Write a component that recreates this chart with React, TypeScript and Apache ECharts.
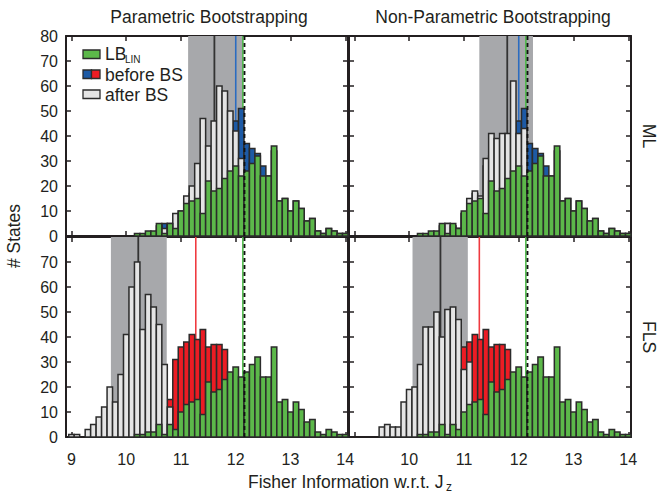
import React, { useEffect, useRef } from "react";
import * as echarts from "echarts";

// ---------- data ----------
const BIN_CENTERS = [
  9.0, 9.1, 9.2, 9.3, 9.4, 9.5, 9.6, 9.7, 9.8, 9.9,
  10.0, 10.1, 10.2, 10.3, 10.4, 10.5, 10.6, 10.7, 10.8, 10.9,
  11.0, 11.1, 11.2, 11.3, 11.4, 11.5, 11.6, 11.7, 11.8, 11.9,
  12.0, 12.1, 12.2, 12.3, 12.4, 12.5, 12.6, 12.7, 12.8, 12.9,
  13.0, 13.1, 13.2, 13.3, 13.4, 13.5, 13.6, 13.7, 13.8, 13.9, 14.0,
];
const BIN_WIDTH = 0.1;

const LB_LIN = [
  0, 0, 0, 0, 0, 0, 0, 0, 0, 0,
  0, 0, 1, 1, 2, 2, 5, 1, 5, 3,
  10, 13, 14, 15, 9, 22, 18, 19, 23, 26,
  28, 24, 26, 29, 32, 24, 24, 36, 14, 15,
  10, 14, 11, 6, 7, 2, 1, 3, 2, 1, 1,
];
const BEFORE_ML = [
  0, 0, 0, 0, 0, 0, 0, 0, 0, 0,
  0, 0, 0, 0, 0, 0, 2, 5, 4, 3,
  9, 14, 17, 15, 28, 32, 34, 38, 38, 40,
  46, 51, 37, 35, 33, 28, 24, 34, 14, 15,
  10, 14, 11, 6, 7, 2, 1, 3, 2, 1, 1,
];
const AFTER_ML_PARAM = [
  0, 0, 0, 0, 0, 0, 0, 0, 0, 0,
  0, 0, 0, 0, 0, 1, 4, 3, 5, 9,
  10, 16, 20, 29, 47, 36, 46, 60, 58, 50,
  42, 31, 10, 3, 0, 0, 0, 0, 0, 0,
  0, 0, 0, 0, 0, 0, 0, 0, 0, 0, 0,
];
const AFTER_ML_NONPARAM = [
  0, 0, 0, 0, 0, 0, 0, 0, 0, 0,
  0, 0, 0, 0, 0, 0, 4, 5, 4, 3,
  9, 15, 18, 16, 31, 41, 39, 41, 41, 62,
  41, 43, 12, 5, 0, 0, 0, 0, 0, 0,
  0, 0, 0, 0, 0, 0, 0, 0, 0, 0, 0,
];
const BEFORE_FLS = [
  0, 0, 0, 0, 0, 0, 0, 0, 0, 0,
  0, 0, 0, 0, 0, 2, 5, 9, 15, 31,
  36, 38, 41, 39, 43, 36, 37, 37, 35, 20,
  15, 10, 8, 5, 3, 2, 1, 0, 0, 0,
  0, 0, 0, 0, 0, 0, 0, 0, 0, 0, 0,
];
const AFTER_FLS_PARAM = [
  1, 1, 0, 3, 5, 8, 12, 20, 14, 25,
  41, 60, 70, 43, 57, 52, 45, 29, 12, 2,
  0, 0, 0, 0, 0, 0, 0, 0, 0, 0,
  0, 0, 0, 0, 0, 0, 0, 0, 0, 0,
  0, 0, 0, 0, 0, 0, 0, 0, 0, 0, 0,
];
const AFTER_FLS_NONPARAM = [
  0, 0, 0, 0, 0, 4, 5, 4, 4, 14,
  19, 20, 29, 44, 44, 50, 40, 51, 52, 47,
  27, 30, 0, 0, 0, 0, 0, 0, 0, 0,
  0, 0, 0, 0, 0, 0, 0, 0, 0, 0,
  0, 0, 0, 0, 0, 0, 0, 0, 0, 0, 0,
];

// per panel: TL, TR, BL, BR
const AFTER_BAND = [
  [11.13, 12.13],
  [11.28, 12.26],
  [9.72, 10.74],
  [10.06, 11.07],
];
const AFTER_MEAN = [11.61, 11.79, 10.22, 10.57];
const BEFORE_MEAN = [12.0, 12.0, 11.27, 11.28];
const LB_LIN_MEAN = 12.13;
const TRUE_VALUE = 12.16;

const X_TICKS = [9, 10, 11, 12, 13, 14];
const X_MIN = 8.9;
const X_MAX = 14.05;
const Y_MIN = 0;
const Y_MAX = 80;
const Y_STEP = 10;

const COL_TITLES = ["Parametric Bootstrapping", "Non-Parametric Bootstrapping"];
const ROW_LABELS = ["ML", "FLS"];
const LEGEND_LABELS = ["LB", "before BS", "after BS"];

// ---------- styles ----------
const FONT = '"Liberation Sans", Arial, Helvetica, sans-serif';
const INK = "#231f20";
const EDGE = "#2b2b2b";
const GREEN = "#5cb84a";
const BLUE = "#1d5aa5";
const RED = "#ec1c24";
const LIGHT = "#e4e4e4";
const BAND = "#a7a8ab";
const MEAN_LINE = "#333333";
const BLUE_LINE = "#2b6cc0";
const RED_LINE = "#ef3a3f";
const GREEN_LINE = "#4cb848";

const GRIDS = [
  { left: 66, top: 36, width: 282, height: 200 },
  { left: 349, top: 36, width: 282, height: 200 },
  { left: 66, top: 237, width: 282, height: 200 },
  { left: 349, top: 237, width: 282, height: 200 },
];

function barSeries(gi: number, values: number[], fill: string, z: number) {
  return {
    type: "custom",
    xAxisIndex: gi * 2,
    yAxisIndex: gi * 2,
    z,
    silent: true,
    data: BIN_CENTERS.map((c, i) => [c, values[i]]),
    renderItem: (params: any, api: any) => {
      const x = api.value(0);
      const y = api.value(1);
      if (!y) return null;
      const a = api.coord([x - BIN_WIDTH / 2, y]);
      const b = api.coord([x + BIN_WIDTH / 2, 0]);
      return {
        type: "rect",
        shape: { x: a[0], y: a[1], width: b[0] - a[0], height: b[1] - a[1] },
        style: { fill, stroke: EDGE, lineWidth: 1.5 },
      };
    },
  };
}

function bandSeries(gi: number, range: number[]) {
  return {
    type: "custom",
    xAxisIndex: gi * 2,
    yAxisIndex: gi * 2,
    z: 1,
    silent: true,
    data: [[range[0], range[1]]],
    renderItem: (params: any, api: any) => {
      const cs = params.coordSys;
      const a = api.coord([api.value(0), 0]);
      const b = api.coord([api.value(1), 0]);
      return {
        type: "rect",
        shape: { x: a[0], y: cs.y, width: b[0] - a[0], height: cs.height },
        style: { fill: BAND },
      };
    },
  };
}

function vlineSeries(gi: number, xv: number, color: string, width: number, z: number, dash?: number[]) {
  return {
    type: "custom",
    xAxisIndex: gi * 2,
    yAxisIndex: gi * 2,
    z,
    silent: true,
    data: [[xv, 0]],
    renderItem: (params: any, api: any) => {
      const cs = params.coordSys;
      const p = api.coord([api.value(0), 0]);
      return {
        type: "line",
        shape: { x1: p[0], y1: cs.y, x2: p[0], y2: cs.y + cs.height },
        style: { stroke: color, lineWidth: width, lineDash: dash || null },
      };
    },
  };
}

function xAxes(gi: number, showLabels: boolean, hideFirst: boolean) {
  const labelVals = hideFirst ? X_TICKS.slice(1) : X_TICKS;
  const common = {
    type: "value",
    gridIndex: gi,
    min: X_MIN,
    max: X_MAX,
    splitLine: { show: false },
    axisLine: { show: true, onZero: false, lineStyle: { color: INK, width: 2 } },
    axisTick: {
      show: true,
      inside: true,
      length: 5,
      customValues: X_TICKS,
      lineStyle: { color: INK, width: 1.5 },
    },
  };
  return [
    {
      ...common,
      position: "bottom",
      axisLabel: {
        show: showLabels,
        customValues: labelVals,
        margin: 14,
        fontSize: 16,
        fontFamily: FONT,
        color: INK,
        formatter: (v: number) =>
          labelVals.some((t) => Math.abs(t - v) < 1e-6) ? String(Math.round(v)) : "",
      },
    },
    { ...common, position: "top", axisLabel: { show: false } },
  ];
}

function yAxes(gi: number, showLabels: boolean, hideTop: boolean) {
  const common = {
    type: "value",
    gridIndex: gi,
    min: Y_MIN,
    max: Y_MAX,
    interval: Y_STEP,
    splitLine: { show: false },
    axisLine: { show: true, onZero: false, lineStyle: { color: INK, width: 2 } },
    axisTick: { show: true, inside: true, length: 5, lineStyle: { color: INK, width: 1.5 } },
  };
  return [
    {
      ...common,
      position: "left",
      axisLabel: {
        show: showLabels,
        margin: 8,
        fontSize: 16,
        fontFamily: FONT,
        color: INK,
        formatter: (v: number) => (hideTop && v === Y_MAX ? "" : String(v)),
      },
    },
    { ...common, position: "right", axisLabel: { show: false } },
  ];
}

function text(x: number, y: number, s: string, size: number, opts: any = {}) {
  return {
    type: "text",
    x,
    y,
    rotation: opts.rotation || 0,
    z: 100,
    style: {
      text: s,
      fill: INK,
      font: `${size}px ${FONT}`,
      fontSize: size,
      fontFamily: FONT,
      textAlign: opts.align || "center",
      align: opts.align || "center",
      textVerticalAlign: "middle",
      verticalAlign: "middle",
    },
  };
}

export default function App() {
  const ref = useRef<HTMLDivElement>(null);

  useEffect(() => {
    document.body.style.margin = "0";
    if (!ref.current) return;
    const chart = echarts.init(ref.current, null, { renderer: "svg" });

    const panels = [
      { before: BEFORE_ML, beforeColor: BLUE, beforeLine: BLUE_LINE, after: AFTER_ML_PARAM },
      { before: BEFORE_ML, beforeColor: BLUE, beforeLine: BLUE_LINE, after: AFTER_ML_NONPARAM },
      { before: BEFORE_FLS, beforeColor: RED, beforeLine: RED_LINE, after: AFTER_FLS_PARAM },
      { before: BEFORE_FLS, beforeColor: RED, beforeLine: RED_LINE, after: AFTER_FLS_NONPARAM },
    ];

    const series: any[] = [];
    panels.forEach((p, gi) => {
      series.push(bandSeries(gi, AFTER_BAND[gi]));
      series.push(vlineSeries(gi, AFTER_MEAN[gi], MEAN_LINE, 1.8, 2));
      series.push(vlineSeries(gi, BEFORE_MEAN[gi], p.beforeLine, 1.6, 2));
      series.push(vlineSeries(gi, LB_LIN_MEAN, GREEN_LINE, 1.6, 2));
      series.push(barSeries(gi, p.before, p.beforeColor, 3));
      series.push(barSeries(gi, p.after, LIGHT, 4));
      series.push(barSeries(gi, LB_LIN, GREEN, 5));
      series.push(vlineSeries(gi, TRUE_VALUE, "#111111", 1.8, 6, [4, 3]));
    });

    const xAxis = [
      ...xAxes(0, false, false),
      ...xAxes(1, false, false),
      ...xAxes(2, true, false),
      ...xAxes(3, true, true),
    ];
    const yAxis = [
      ...yAxes(0, true, false),
      ...yAxes(1, false, false),
      ...yAxes(2, true, true),
      ...yAxes(3, false, false),
    ];

    const lx = 83;
    const lw = 17;
    const lh = 8.5;
    const legendRows = [50, 70, 90];
    const graphic: any[] = [
      text(209, 17, COL_TITLES[0], 17.5),
      text(493, 17, COL_TITLES[1], 17.5),
      text(649, 136, ROW_LABELS[0], 17.5, { rotation: -Math.PI / 2 }),
      text(649, 337, ROW_LABELS[1], 17.5, { rotation: -Math.PI / 2 }),
      text(14, 236, "# States", 17.5, { rotation: Math.PI / 2 }),
      text(248, 482, "Fisher Information w.r.t. J", 17.5, { align: "left" }),
      text(446, 487, "z", 12, { align: "left" }),
      // legend
      {
        type: "rect",
        z: 100,
        shape: { x: lx, y: legendRows[0], width: lw, height: lh },
        style: { fill: GREEN, stroke: EDGE, lineWidth: 1.3 },
      },
      {
        type: "rect",
        z: 100,
        shape: { x: lx, y: legendRows[1], width: lw / 2, height: lh },
        style: { fill: BLUE, stroke: EDGE, lineWidth: 1.3 },
      },
      {
        type: "rect",
        z: 100,
        shape: { x: lx + lw / 2, y: legendRows[1], width: lw / 2, height: lh },
        style: { fill: RED, stroke: EDGE, lineWidth: 1.3 },
      },
      {
        type: "rect",
        z: 100,
        shape: { x: lx, y: legendRows[2], width: lw, height: lh },
        style: { fill: LIGHT, stroke: EDGE, lineWidth: 1.3 },
      },
      text(105, legendRows[0] + 4, LEGEND_LABELS[0], 17.5, { align: "left" }),
      text(125, legendRows[0] + 9, "LIN", 10, { align: "left" }),
      text(105, legendRows[1] + 5, LEGEND_LABELS[1], 17.5, { align: "left" }),
      text(105, legendRows[2] + 5, LEGEND_LABELS[2], 17.5, { align: "left" }),
    ];

    chart.setOption({
      animation: false,
      backgroundColor: "#ffffff",
      grid: GRIDS.map((g) => ({ ...g, containLabel: false })),
      xAxis,
      yAxis,
      series,
      graphic,
    });

    return () => chart.dispose();
  }, []);

  return <div ref={ref} style={{ width: 662, height: 493 }} />;
}
